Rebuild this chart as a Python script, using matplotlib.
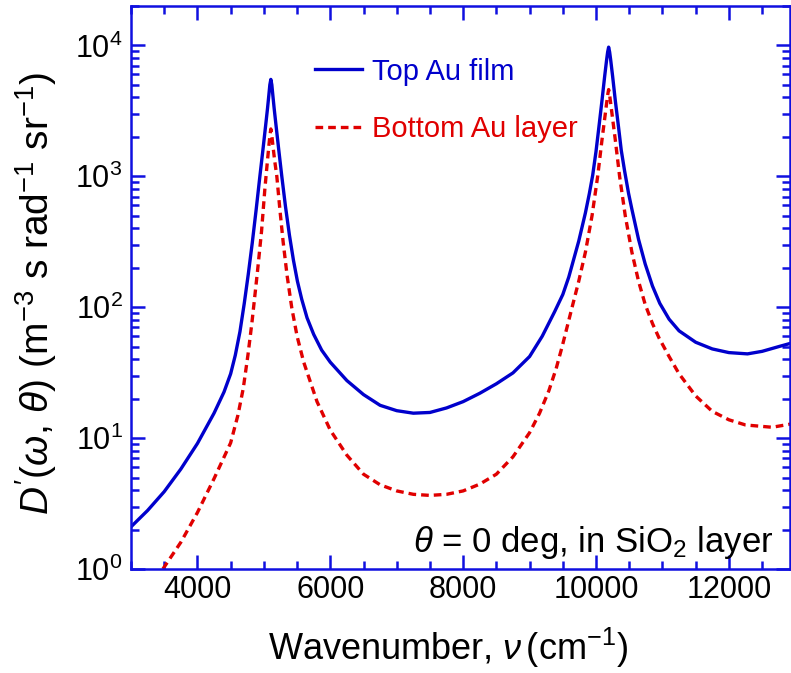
import matplotlib
matplotlib.use("Agg")
import matplotlib.pyplot as plt
from matplotlib.ticker import LogLocator, MultipleLocator, NullFormatter

plt.rcParams['font.family'] = ['Liberation Sans', 'DejaVu Sans']
plt.rcParams['mathtext.fontset'] = 'custom'
plt.rcParams['mathtext.rm'] = 'Liberation Sans'
plt.rcParams['mathtext.it'] = 'Liberation Sans:italic'

# data
top_x = [3000, 3250, 3500, 3750, 4000, 4250, 4400, 4500, 4570, 4640, 4705, 4765,
         4825, 4885, 4940, 4985, 5025, 5055, 5075, 5090, 5105, 5120, 5135, 5155,
         5185, 5225, 5270, 5325, 5385, 5445, 5505, 5570, 5650, 5750, 5870, 6000,
         6250, 6500, 6750, 7000, 7250, 7500, 7750, 8000, 8250, 8500, 8750, 9000,
         9190, 9375, 9500, 9590, 9740, 9840, 9900, 9950, 10000, 10040, 10090,
         10130, 10160, 10175, 10190, 10205, 10220, 10250, 10290, 10340, 10380,
         10430, 10490, 10540, 10640, 10740, 10850, 10960, 11100, 11250, 11500,
         11750, 12000, 12280, 12500, 12750, 12930]
top_y = [2.1, 2.8, 3.9, 5.8, 9.1, 15.5, 22.5, 31, 43, 65, 107, 178,
         309, 562, 1000, 1580, 2400, 3300, 4170, 5000, 5500, 5000, 4170, 3300,
         2400, 1580, 1000, 590, 355, 229, 158, 115, 83, 62, 47, 38,
         27.5, 21.5, 17.8, 16.2, 15.5, 15.7, 17, 19, 22, 26, 31.5, 42,
         60, 92, 125, 170, 320, 525, 740, 1020, 1550, 2300, 3800,
         5800, 7800, 8900, 9700, 8900, 7800, 5800, 3800, 2350, 1580,
         1100, 740, 560, 330, 214, 145, 107, 81, 66, 54,
         48, 45, 44, 46, 50, 53]

bot_x = [3480, 3750, 4000, 4250, 4500, 4610, 4690, 4760, 4820, 4870, 4905, 4965,
         5015, 5050, 5075, 5090, 5105, 5120, 5135, 5160, 5195, 5240, 5290, 5350,
         5420, 5500, 5600, 5800, 6000, 6250, 6500, 6750, 7000, 7250, 7500, 7750,
         8000, 8250, 8500, 8750, 9000, 9150, 9290, 9400, 9490, 9640, 9740, 9840,
         9940, 10025, 10090, 10130, 10160, 10175, 10190, 10205, 10220, 10250,
         10290, 10355, 10440, 10540, 10640, 10740, 10850, 10950, 11100, 11250,
         11500, 11750, 12000, 12250, 12650, 12930]
bot_y = [1.0, 1.6, 2.7, 4.9, 9.2, 15, 24, 43, 76, 130, 190, 380,
         800, 1250, 1700, 2030, 2300, 2050, 1740, 1350, 1000, 565, 316, 174,
         99, 60, 38, 19, 11.5, 7.4, 5.3, 4.4, 3.95, 3.72, 3.65, 3.72,
         3.95, 4.45, 5.3, 7.2, 11, 15.5, 23, 34, 50, 100, 158, 263,
         500, 1000, 1900, 2750, 3630, 4170, 4600, 4170, 3630, 2750,
         1900, 1000, 500, 263, 158, 105, 75, 58, 42, 31,
         21, 16, 13.8, 12.6, 12.1, 12.8]

blue = '#0000cc'
red = '#e00000'

fig = plt.figure(figsize=(7.91, 6.73), dpi=100)
ax = fig.add_axes([131 / 791, 1 - 569 / 673, 659 / 791, 563 / 673])

ax.plot(top_x, top_y, color=blue, lw=2.4, label='Top Au film')
ax.plot(bot_x, bot_y, color=red, lw=2.4, linestyle=(0, (2.3, 1.5)), label='Bottom Au layer')

ax.set_yscale('log')
ax.set_xlim(3000, 12920)
ax.set_ylim(1, 2e4)

ax.xaxis.set_major_locator(MultipleLocator(2000))
ax.xaxis.set_minor_locator(MultipleLocator(500))
ax.yaxis.set_major_locator(LogLocator(base=10, numticks=10))
ax.yaxis.set_minor_locator(LogLocator(base=10, subs=range(2, 10), numticks=20))
ax.yaxis.set_minor_formatter(NullFormatter())

for s in ax.spines.values():
    s.set_color('#1010e0')
    s.set_linewidth(1.8)
ax.tick_params(which='both', direction='in', color='#1010e0', top=True, right=True,
               labelsize=22, labelcolor='black', width=1.8)
ax.tick_params(which='major', length=10)
ax.tick_params(axis='x', which='major', pad=4)
ax.tick_params(axis='y', which='major', pad=6)
ax.tick_params(which='minor', length=6)

ax.set_xlabel(r'Wavenumber, $\nu\,$(cm$^{-1}$)', fontsize=26)
ax.xaxis.set_label_coords(0.481, -0.1)
ax.xaxis.label.set_va('top')
ax.set_ylabel(r"$D'(\omega,\,\theta)$ (m$^{-3}$ s rad$^{-1}$ sr$^{-1}$)", fontsize=28)
ax.yaxis.set_label_coords(-0.11, 0.49)

leg = ax.legend(loc='upper left', bbox_to_anchor=(0.24, 0.955), frameon=False,
                fontsize=21, handlelength=1.6, handletextpad=0.35, labelspacing=1.0)
for t, c in zip(leg.get_texts(), [blue, red]):
    t.set_color(c)

ax.text(0.975, 0.03, r'$\theta$ = 0 deg, in SiO$_2$ layer', transform=ax.transAxes,
        ha='right', va='baseline', fontsize=25)

fig.savefig('out.png', dpi=100)
